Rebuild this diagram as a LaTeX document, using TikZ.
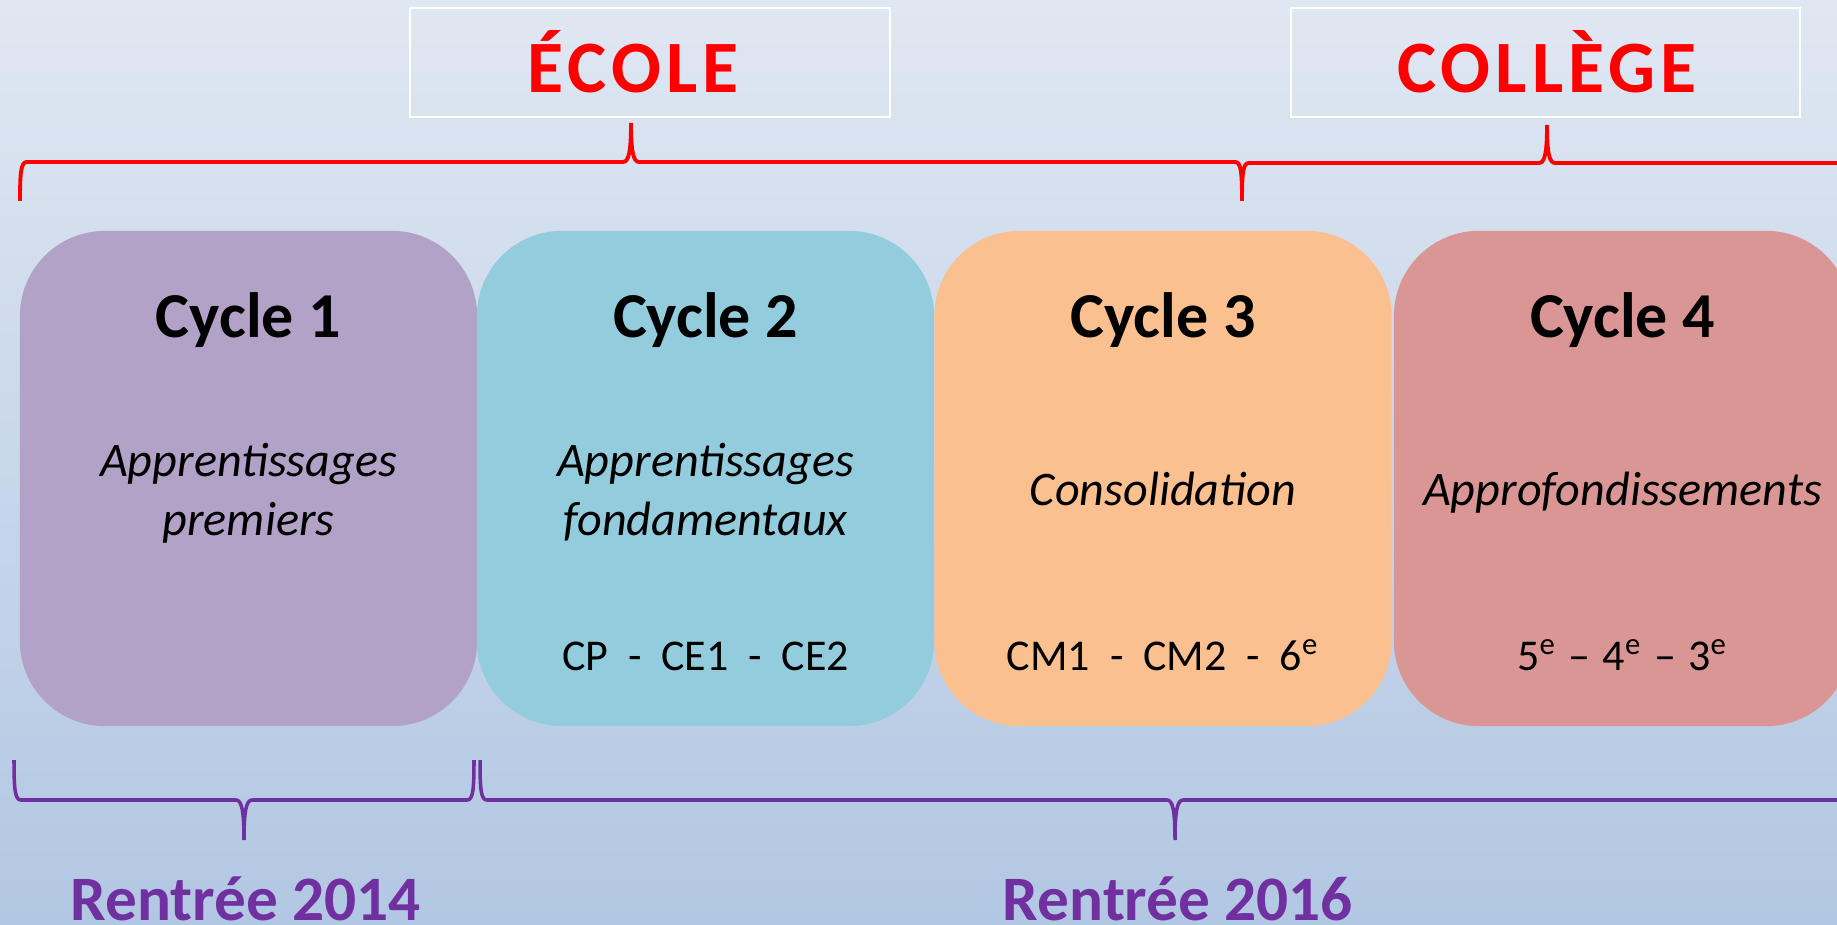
\documentclass[tikz,border=0pt]{standalone}
\usepackage{fontspec}
\setmainfont{Carlito}
\newfontfamily\spacedfont[LetterSpace=7]{Carlito}
\usetikzlibrary{calc}

\definecolor{bgtop}{HTML}{DFE7F2}
\definecolor{bgbottom}{HTML}{B2C7E3}
\definecolor{cycleA}{HTML}{B3A2C7}
\definecolor{cycleB}{HTML}{93CDDD}
\definecolor{cycleC}{HTML}{FAC090}
\definecolor{cycleD}{HTML}{D99694}
\definecolor{ecolered}{HTML}{FF0000}
\definecolor{rentreeviolet}{HTML}{7030A0}

% brace between two end points: style, left end, right end, signed depth
\newcommand\hbrace[4]{%
  \draw[#1] (#2) .. controls ($(#2)+(0,{0.75*(#4)})$) and ($(#2)+(1,#4)$) .. ($(#2)+(7,#4)$)
    -- ($(#2)!0.5!(#3)+(-8,#4)$)
    .. controls ($(#2)!0.5!(#3)+(-2,#4)$) and ($(#2)!0.5!(#3)+(0,{1.3*(#4)})$) .. ($(#2)!0.5!(#3)+(0,{2*(#4)})$)
    .. controls ($(#2)!0.5!(#3)+(0,{1.3*(#4)})$) and ($(#2)!0.5!(#3)+(2,#4)$) .. ($(#2)!0.5!(#3)+(8,#4)$)
    -- ($(#3)+(-7,#4)$) .. controls ($(#3)+(-1,#4)$) and ($(#3)+(0,{0.75*(#4)})$) .. (#3);}

\begin{document}
\begin{tikzpicture}[
    x=0.01cm, y=-0.01cm,
    cycle/.style={rectangle, rounded corners=0.85cm, minimum width=4.57cm, minimum height=4.95cm, inner sep=0pt},
    cycletitle/.style={anchor=base, font=\bfseries\fontsize{18.2}{22}\selectfont},
    cyclegoal/.style={anchor=base, align=center, font=\itshape\fontsize{13.7}{16.5}\selectfont},
    cyclelevels/.style={anchor=base, font=\fontsize{12.5}{15}\selectfont},
    schoolframe/.style={draw=white, line width=0.6pt, minimum width=4.8cm, minimum height=1.09cm, inner sep=0pt},
    school/.style={anchor=base, text=ecolered, font=\spacedfont\bfseries\fontsize{21}{25}\selectfont},
    rentree/.style={anchor=base, text=rentreeviolet, font=\bfseries\fontsize{18}{22}\selectfont},
    redbrace/.style={draw=ecolered, line width=1.1pt},
    violetbrace/.style={draw=rentreeviolet, line width=1pt},
]
  \useasboundingbox (0,0) rectangle (1837,925);
  \fill[top color=bgtop, bottom color=bgbottom] (0,0) rectangle (1837,925);
  \clip (0,0) rectangle (1837,925);

  % the four cycles
  \node [cycle, fill=cycleA]  (c1) at (248.5,478.5)  {};
  \node [cycle, fill=cycleB]  (c2) at (705.5,478.5)  {};
  \node [cycle, fill=cycleC]  (c3) at (1163,478.5)   {};
  \node [cycle, fill=cycleD]  (c4) at (1622.5,478.5) {};

  \node [cycletitle]  (t1) at (248.5,338)  {Cycle 1};
  \node [cycletitle]  (t2) at (705.5,338)  {Cycle 2};
  \node [cycletitle]  (t3) at (1163,338)   {Cycle 3};
  \node [cycletitle]  (t4) at (1622.5,338) {Cycle 4};

  % base of a two-line goal is its last line
  \node [cyclegoal]   (g1) at (248.5,535)  {Apprentissages\\premiers};
  \node [cyclegoal]   (g2) at (705.5,535)  {Apprentissages\\fondamentaux};
  \node [cyclegoal]   (g3) at (1163,505)   {Consolidation};
  \node [cyclegoal]   (g4) at (1622.5,505) {Approfondissements};

  \node [cyclelevels] (l2) at (705.5,670)  {CP~~-~~CE1~~-~~CE2};
  \node [cyclelevels] (l3) at (1163,670)   {CM1~~-~~CM2~~-~~6\textsuperscript{e}};
  \node [cyclelevels] (l4) at (1622.5,670) {5\textsuperscript{e}\hspace{0.05em} -- \hspace{0.05em}4\textsuperscript{e}\hspace{0.05em} -- \hspace{0.05em}3\textsuperscript{e}};

  % ecole / college
  \node [schoolframe]                      (ecolebox)   at (650,62.5)    {};
  \node [schoolframe, minimum width=5.09cm] (collegebox) at (1545.5,62.5) {};
  \node [school] (ecole)   at (633,93)  {ÉCOLE};
  \node [school] (college) at (1547,93) {COLLÈGE};

  \coordinate (ecoleL)   at (20,201);
  \coordinate (ecoleR)   at (1242,201);
  \coordinate (collegeR) at (1852,201);
  \hbrace{redbrace}{ecoleL}{ecoleR}{-39}
  \hbrace{redbrace}{ecoleR}{collegeR}{-38}

  % rentrees
  \coordinate (r14L) at (14,760);
  \coordinate (r14R) at (474,760);
  \coordinate (r16L) at (480,760);
  \coordinate (r16R) at (1870,760);
  \hbrace{violetbrace}{r14L}{r14R}{40}
  \hbrace{violetbrace}{r16L}{r16R}{40}

  \node [rentree] (r14) at (246,920)  {Rentrée 2014};
  \node [rentree] (r16) at (1178,920) {Rentrée 2016};
\end{tikzpicture}
\end{document}
